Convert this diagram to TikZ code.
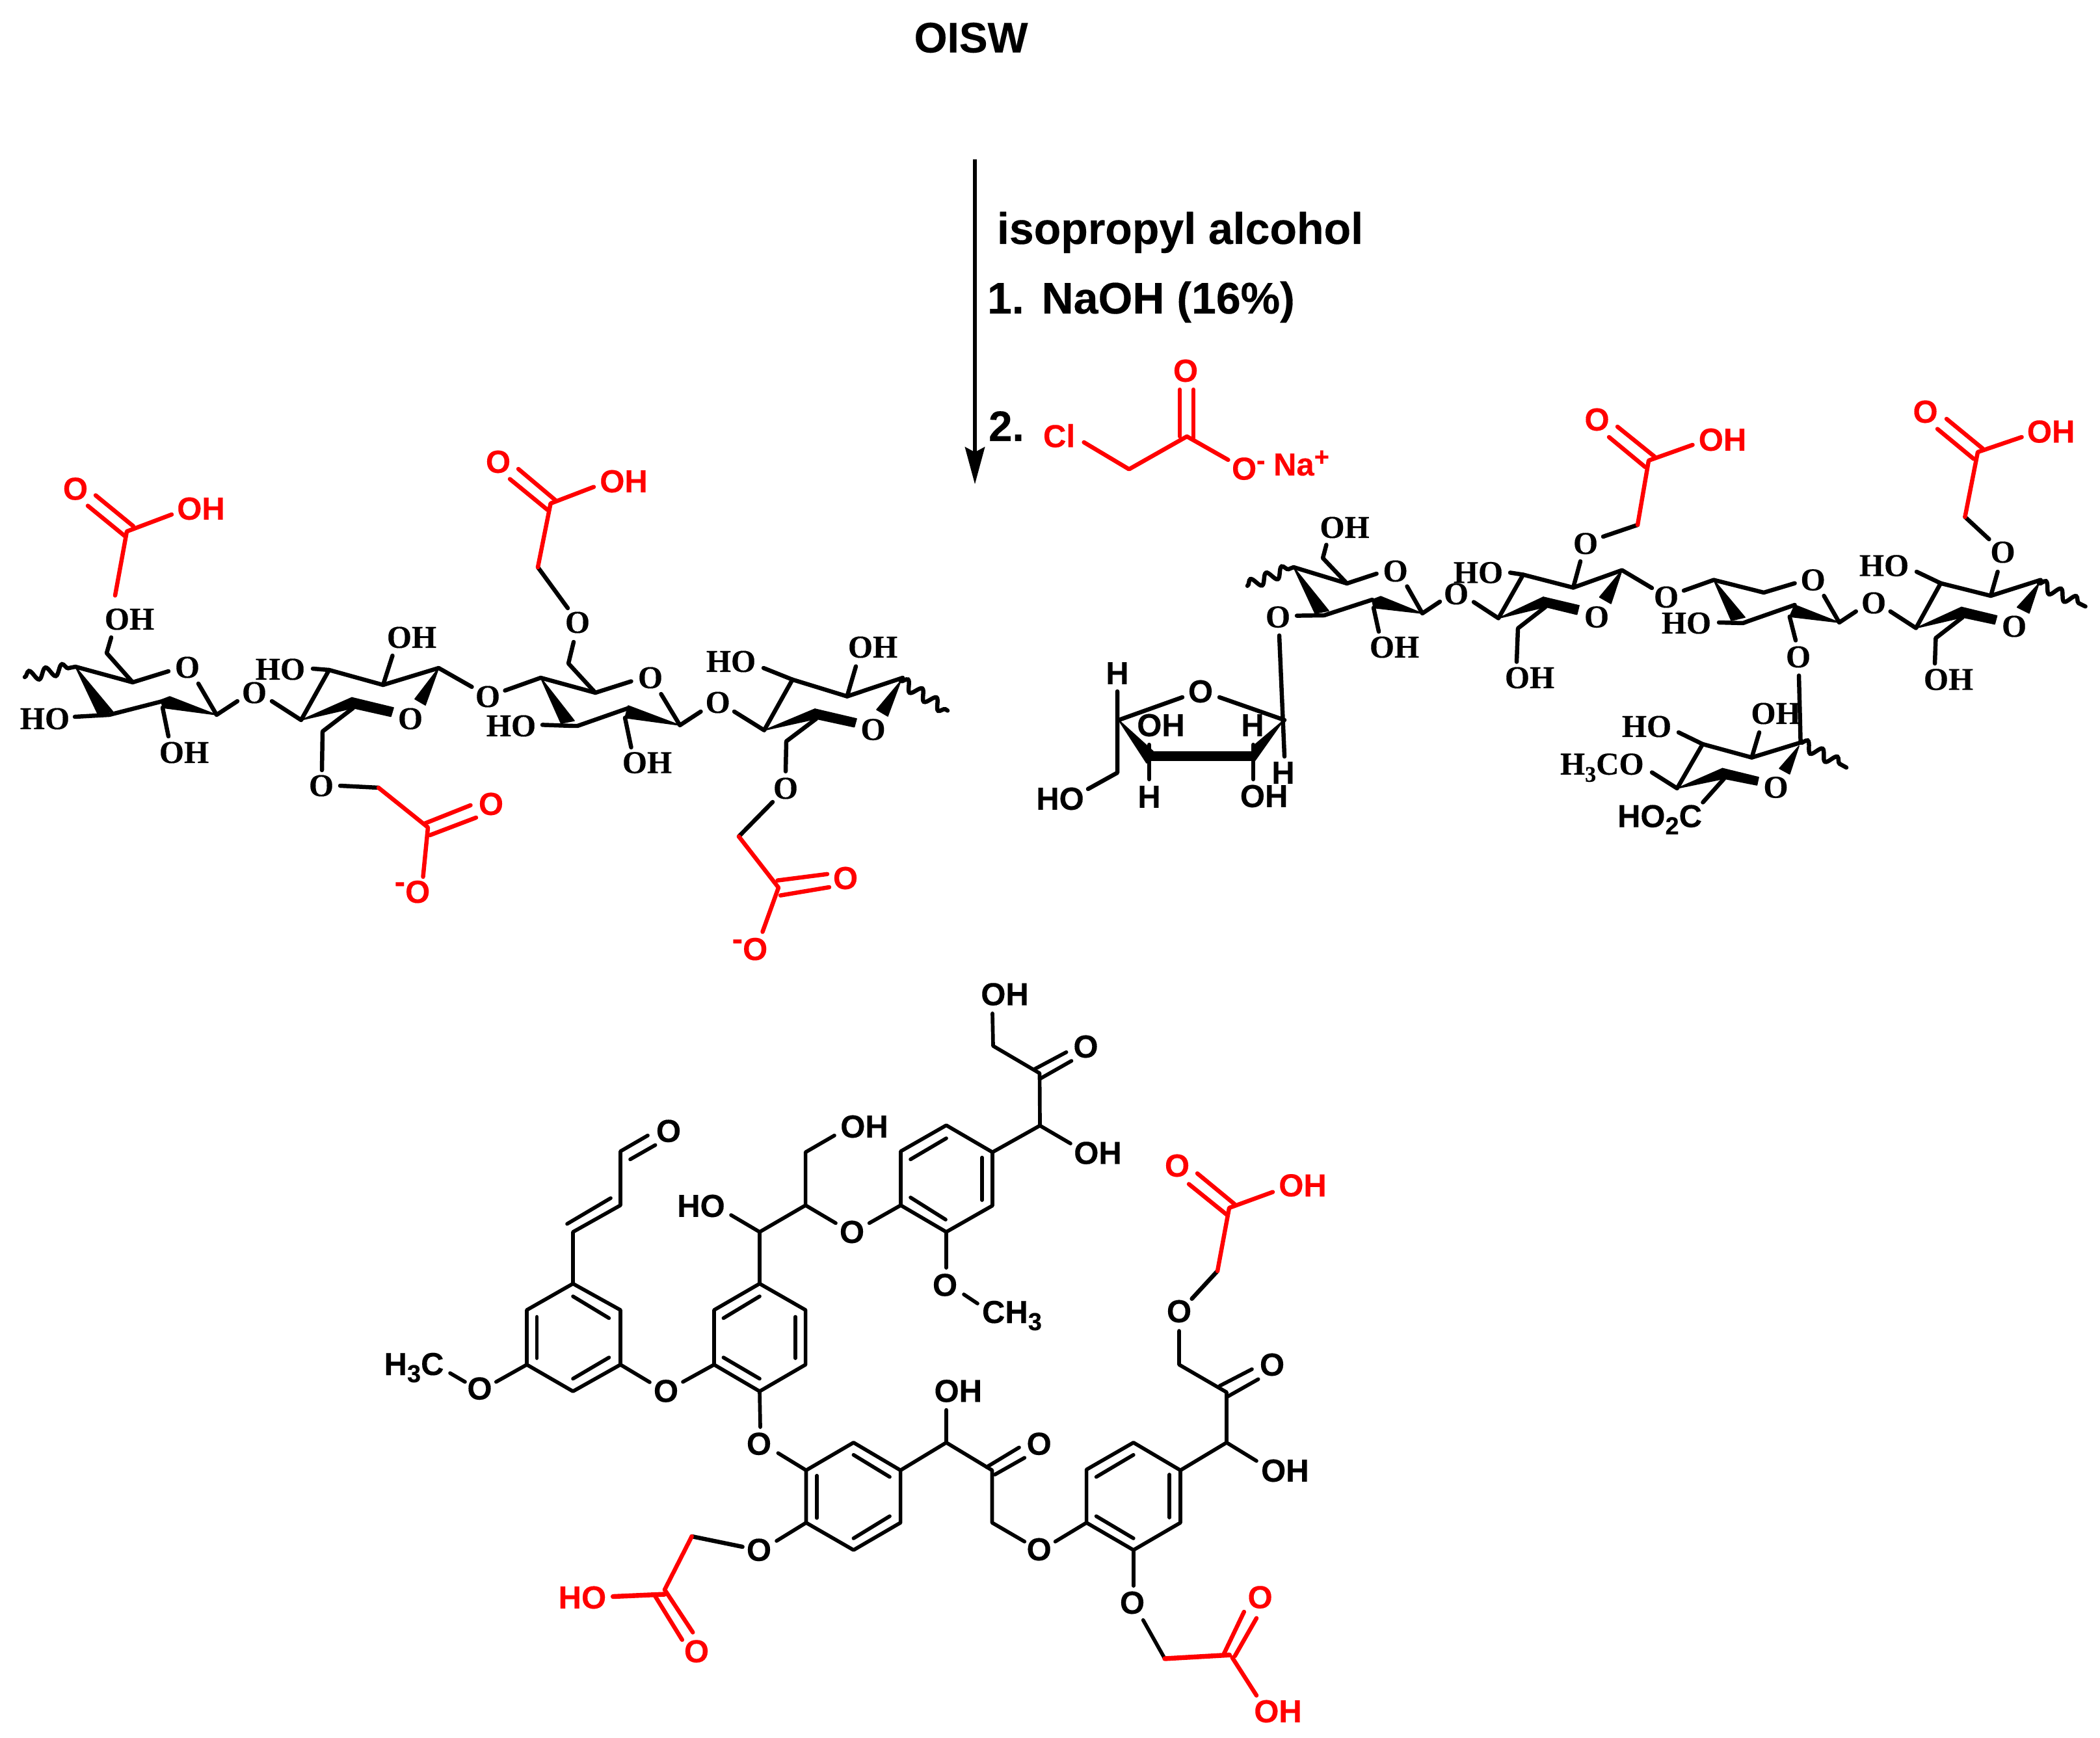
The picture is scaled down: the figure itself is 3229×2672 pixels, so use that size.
\documentclass[tikz,border=0pt]{standalone}
\usepackage{fontspec}
\setmainfont{Liberation Serif}[BoldFeatures={FakeBold=0.25}]
\setsansfont{Liberation Sans}[BoldFeatures={FakeBold=0.25}]
\usetikzlibrary{arrows.meta,decorations.pathmorphing}
\definecolor{acid}{RGB}{255,0,0}
\newcommand{\subdig}[1]{\raisebox{-2.75pt}{\fontsize{9.5}{9.5}\selectfont #1}}
\newcommand{\subser}[1]{\raisebox{-2.75pt}{\fontsize{8.5}{8.5}\selectfont #1}}
\newcommand{\vtx}[1]{\foreach \n/\x/\y in {#1} {\coordinate (\n) at (\x,\y);}}
\tikzset{
  x=0.25pt,y=-0.25pt,
  bnd/.style={line width=1.62pt,line cap=round,line join=round,draw=black},
  rbnd/.style={line width=1.62pt,line cap=round,line join=round,draw=acid},
  lbnd/.style={line width=1.42pt,line cap=round,line join=round,draw=black},
  wdg/.style={fill=black,draw=black,line width=0.4pt,line join=round},
  wav/.style={line width=1.62pt,line cap=round,draw=black,decorate,decoration={snake,segment length=6.5pt,amplitude=2pt}},
  lab/.style={inner sep=0pt,outer sep=0pt,font=\fontsize{12.25}{12.25}\selectfont\bfseries},
  slab/.style={inner sep=0pt,outer sep=0pt,font=\fontsize{12.25}{12.25}\selectfont\sffamily\bfseries},
  rlab/.style={slab,text=acid},
  big/.style={inner sep=0pt,outer sep=0pt,font=\fontsize{16.4}{16.4}\selectfont\sffamily\bfseries},
  rgt/.style={inner sep=0pt,outer sep=0pt,font=\fontsize{17}{17}\selectfont\sffamily\bfseries},
}
\begin{document}
\begin{tikzpicture}
\useasboundingbox (0,0) rectangle (3229,2672);
% ---------- reaction text and arrow
\node[big] (title) at (1493,58) {OISW};
\coordinate (arrT) at (1499,245); \coordinate (arrH) at (1499,744.6);
\draw[line width=1.65pt,draw=black,-{Stealth[length=14.25pt,width=7.5pt,inset=1.9pt]}] (arrT) -- (arrH);
\node[rgt,anchor=base west] (iso) at (1533,375) {isopropyl alcohol};
\node[rgt,anchor=base west] (naoh) at (1518,482) {1.~\hspace{2pt}NaOH (16\%)};
\node[big,anchor=base west] (two) at (1520,678) {2.};
\node[rlab,anchor=base west] (cl) at (1604,687.5) {Cl};
\node[rlab] (rgO) at (1823,570) {O};
\node[rlab,anchor=base west] (rgOm) at (1894,737.5) {O\raisebox{4pt}{\fontsize{10}{10}\selectfont -}};
\node[rlab,anchor=base west] (rgNa) at (1958,731) {Na\raisebox{3.75pt}{\fontsize{10}{10}\selectfont +}};
\vtx{rg1/1666.6/680,rg2/1736/721.4,rg3/1825/671,rg4/1888.4/707,rg5/1814/599,rg6/1814/671,rg7/1835/599,rg8/1835/675}
\draw[rbnd] (rg1)--(rg2)--(rg3)--(rg4);
\draw[rbnd] (rg5)--(rg6); \draw[rbnd] (rg7)--(rg8);

% ---------- left chain, unit A
\vtx{Aw/38/1041,A1/116/1025,A2/204/1049,A3/164/1004,A3e/171/980,A4/259/1032,A5/305/1051,A6/333/1099,A7/365/1078,A8a/150.5/1098,A8b/173.5/1094,A9/168/1099,A10/250/1078,A11t/261/1071,A11m/248/1076,A11b/250/1088,A12/259/1132,A13/115/1102}
\draw[wav] (Aw)--(A1);
\draw[bnd] (A3e)--(A3)--(A2);
\draw[bnd] (A1)--(A2)--(A4);
\draw[bnd] (A5)--(A6)--(A7);
\fill[wdg] (A1)--(A8a)--(A8b)--cycle;
\draw[bnd] (A13)--(A9)--(A10);
\fill[wdg] (A6)--(A11t)--(A11m)--(A11b)--cycle;
\draw[bnd] (A11b)--(A12);
\node[lab] (AOH1) at (199,952) {OH};
\node[lab] (AO) at (288,1026) {O};
\node[lab] (AHO) at (69,1105) {HO};
\node[lab] (AOH2) at (283,1157) {OH};
\node[lab] (ABO) at (391,1065) {O};
% acid on A
\vtx{Ac1/177/915.5,Ac2/195/817,Ac3/264/791,Ac4/147/761.5,Ac5/205/809,Ac6/135/777.6,Ac7/193/825}
\draw[rbnd] (Ac1)--(Ac2)--(Ac3);
\draw[rbnd] (Ac4)--(Ac5); \draw[rbnd] (Ac6)--(Ac7);
\node[rlab] (AcO) at (116,751.5) {O};
\node[rlab] (AcOH) at (309,782) {OH};

% ---------- unit B
\vtx{B1/418/1078,B2/463/1107,B3/506/1030,B4/481/1028,B5/589/1053,B6/603.5/1008,B7/674.5/1027,B8/725.5/1056,B9a/638/1074.6,B9b/654/1084,B10/541/1072.5,B11/543/1088.5,B12/605/1088,B13/601/1101.5,B14/496/1124.5,B15/495/1184,B16/523/1208,B17/582/1211,B18/658/1272,B19/653/1266,B20/723.5/1238,B21/661/1284,B22/732/1257,B23/650.5/1348}
\draw[bnd] (B1)--(B2)--(B3)--(B5)--(B7)--(B8);
\draw[bnd] (B4)--(B3);
\draw[bnd] (B5)--(B6);
\fill[wdg] (B7)--(B9a)--(B9b)--cycle;
\fill[wdg] (B2)--(B10)--(B11)--cycle;
\fill[wdg] (B10)--(B12)--(B13)--(B11)--cycle;
\draw[bnd] (B11)--(B14)--(B15);
\draw[bnd] (B16)--(B17);
\draw[rbnd] (B17)--(B18)--(B23);
\draw[rbnd] (B19)--(B20); \draw[rbnd] (B21)--(B22);
\node[lab] (BHO) at (431,1029) {HO};
\node[lab] (BOH) at (633,980) {OH};
\node[lab] (BCO) at (750,1071) {O};
\node[lab] (BO) at (631,1105) {O};
\node[lab] (BO2) at (494,1208) {O};
\node[rlab] (BAO) at (755,1236) {O};
\node[rlab,anchor=base] (BAm) at (634,1388) {\raisebox{4pt}{-}O};

% ---------- unit C
\vtx{C0/776.5/1061.6,C1/831.4/1042,C2/915.4/1065,C3/970.5/1047.5,C4/1016.5/1067,C5/1045.4/1115,C6/1077.5/1094,C7/874/1020,C8/882/987,C9/873/935,C10/827/872,C11/846.6/774,C12/913/748.6,C13/797/721,C14/854/769,C15/784/736.5,C16/842/784,C17a/862.6/1112,C17b/883/1108,C18/888/1116,C19/966/1088.7,C20a/966/1085,C20b/961/1103.5,C21/970.5/1149,C22/834/1114.4,C23/881/1116}
\draw[bnd] (C0)--(C1)--(C2)--(C3);
\draw[bnd] (C4)--(C5)--(C6);
\draw[bnd] (C2)--(C7)--(C8);
\draw[bnd] (C9)--(C10);
\draw[rbnd] (C10)--(C11)--(C12);
\draw[rbnd] (C13)--(C14); \draw[rbnd] (C15)--(C16);
\fill[wdg] (C1)--(C17a)--(C17b)--cycle;
\draw[bnd] (C22)--(C23)--(C18)--(C19);
\fill[wdg] (C5)--(C20a)--(C20b)--cycle;
\draw[bnd] (C20b)--(C21);
\node[rlab] (CAO) at (766,710) {O};
\node[rlab] (CAOH) at (959,740) {OH};
\node[lab] (CO2) at (888,957) {O};
\node[lab] (CO) at (1000,1042) {O};
\node[lab] (CHO) at (786,1116) {HO};
\node[lab] (COH) at (995,1172.6) {OH};
\node[lab] (CDO) at (1103.7,1080) {O};

% ---------- unit D
\vtx{D1/1129/1094,D2/1175/1122.7,D3/1218.5/1044.8,D4/1174/1027,D5/1302.5/1070.6,D6/1316/1024.5,D7/1388/1042,D8/1385/1047,D9/1457/1092.5,D10a/1348/1091,D10b/1365/1101,D11/1253/1090,D12/1255/1105,D13/1317/1105,D14/1313.5/1117.7,D15/1209/1139.7,D16/1208/1185.8,D17/1188/1233,D18/1136/1286,D19/1197/1364.6,D20/1195.5/1353.6,D21/1272/1343.8,D22/1200/1376.6,D23/1275/1364,D24/1172.5/1432.6}
\draw[bnd] (D1)--(D2)--(D3)--(D5)--(D7);
\draw[bnd] (D4)--(D3);
\draw[bnd] (D5)--(D6);
\draw[wav] (D8)--(D9);
\fill[wdg] (D8)--(D10a)--(D10b)--cycle;
\fill[wdg] (D2)--(D11)--(D12)--cycle;
\fill[wdg] (D11)--(D13)--(D14)--(D12)--cycle;
\draw[bnd] (D12)--(D15)--(D16);
\draw[bnd] (D17)--(D18);
\draw[rbnd] (D18)--(D19)--(D24);
\draw[rbnd] (D20)--(D21); \draw[rbnd] (D22)--(D23);
\node[lab] (DHO) at (1124,1017) {HO};
\node[lab] (DOH) at (1342,995) {OH};
\node[lab] (DO) at (1342.5,1121.6) {O};
\node[lab] (DO2) at (1208,1212) {O};
\node[rlab] (DAO) at (1300,1350) {O};
\node[rlab,anchor=base] (DAm) at (1153,1476) {\raisebox{4pt}{-}O};

% ---------- furanose
\vtx{Fa/1718/1063,Fb/1718/1188,Fc/1673/1213,Fd/1720/1107,Fe/1818/1072,Ff/1875/1072,Fg/1975/1107,Fh/1967/977,Fi/1975/1163,Fj/1763/1173,Fk/1773/1155,Fl/1973/1108,Fm/1927/1173,Fn/1927/1147,Fo/1767/1145,Fp/1767/1198,Fq/1927/1145,Fr/1927/1198,Fs/1763/1162.5,Ft/1927/1162.5}
\draw[bnd] (Fa)--(Fb)--(Fc);
\draw[bnd] (Fd)--(Fe);
\draw[bnd] (Ff)--(Fg);
\draw[bnd] (Fh)--(Fi);
\fill[wdg] (Fd)--(Fj)--(Fk)--cycle;
\fill[wdg] (Fl)--(Fm)--(Fn)--cycle;
\draw[line width=3.75pt,draw=black] (Fs)--(Ft);
\draw[bnd] (Fo)--(Fp);
\draw[bnd] (Fq)--(Fr);
\node[slab] (FH1) at (1718,1035) {H};
\node[slab] (FHO) at (1630,1228) {HO};
\node[slab] (FO) at (1846,1063) {O};
\node[slab] (FOH1) at (1785,1115) {OH};
\node[slab] (FH2) at (1926,1115) {H};
\node[slab] (FH3) at (1973,1188) {H};
\node[slab] (FOH2) at (1943.6,1224) {OH};
\node[slab] (FH4) at (1767,1225) {H};

% ---------- right chain, unit E
\vtx{Ew/1918/900.7,E1/1989/872,E2/2071/897,E3/2034/858,E4/2039.4/837.6,E5/2116.6/882,E6/2163.5/901.5,E7/2187/943,E8/2214/925,E9a/2022/943,E9b/2043/939,E10/2036/946,E11/1994/946.6,E12/2110/922,E13/2123/917,E14/2112/934.4,E15/2120/971}
\draw[wav] (Ew)--(E1);
\draw[bnd] (E1)--(E2)--(E5);
\draw[bnd] (E4)--(E3)--(E2);
\draw[bnd] (E6)--(E7)--(E8);
\fill[wdg] (E1)--(E9a)--(E9b)--cycle;
\draw[bnd] (E11)--(E10)--(E12);
\fill[wdg] (E7)--(E13)--(E12)--(E14)--cycle;
\draw[bnd] (E14)--(E15);
\node[lab] (EOH1) at (2067.5,811) {OH};
\node[lab] (EO) at (2145.6,878) {O};
\node[lab] (EL) at (1965,948.6) {O};
\node[lab] (EOH2) at (2144,995) {OH};
\node[lab] (EFO) at (2239,913) {O};

% ---------- unit G
\vtx{G1/2266/925.6,G2/2304/950.5,G3/2342/883.5,G4/2322/880.4,G5/2419/903.4,G6/2494/876.6,G7/2430/863,G8/2465/825,G9/2518/807,G10/2535/708,G11/2602.5/684,G12/2487/656,G13/2544/702,G14/2474/672,G15/2529.6/718,G16a/2459.5/918,G16b/2477/928,G17/2540/904,G18/2373/918,G19/2376.4/933,G20/2428/931,G21/2424.6/944.7,G22/2334/966,G23/2332/1017.5}
\draw[bnd] (G1)--(G2)--(G3)--(G5)--(G6)--(G17);
\draw[bnd] (G4)--(G3);
\draw[bnd] (G5)--(G7);
\draw[bnd] (G8)--(G9);
\draw[rbnd] (G9)--(G10)--(G11);
\draw[rbnd] (G12)--(G13); \draw[rbnd] (G14)--(G15);
\fill[wdg] (G6)--(G16a)--(G16b)--cycle;
\fill[wdg] (G2)--(G18)--(G19)--cycle;
\fill[wdg] (G18)--(G20)--(G21)--(G19)--cycle;
\draw[bnd] (G19)--(G22)--(G23);
\node[lab] (GHO) at (2273,880.4) {HO};
\node[lab] (GO2) at (2438,835.7) {O};
\node[lab] (GO) at (2455,948.6) {O};
\node[lab] (GOH) at (2352,1042) {OH};
\node[rlab] (GAO) at (2455.5,645) {O};
\node[rlab] (GAOH) at (2648.5,676) {OH};

% ---------- unit H
\vtx{H0/2589/908,H1/2635/891.6,H2/2712/911,H3/2759.6/896.7,H4/2804.5/916,H5/2828/957,H6/2853.7/940,H7a/2662/954,H7b/2683/949,H8/2688/955,H9/2759.6/930,H10/2751.7/948,H11/2761/984.5,H12/2643/957,H13/2680/958}
\draw[bnd] (H0)--(H1)--(H2)--(H3);
\draw[bnd] (H4)--(H5)--(H6);
\fill[wdg] (H1)--(H7a)--(H7b)--cycle;
\draw[bnd] (H12)--(H13)--(H8)--(H9);
\fill[wdg] (H5)--(H9)--(H10)--cycle;
\draw[bnd] (H10)--(H11);
\node[lab] (HGO) at (2562,918) {O};
\node[lab] (HHO) at (2593,958) {HO};
\node[lab] (HO) at (2787.6,891.6) {O};
\node[lab] (HJO) at (2881,927) {O};
\node[lab] (HIO) at (2765,1010) {O};

% ---------- lower sugar I
\vtx{I1/2766/1038.6,I2/2768.6/1141.6,I3/2839/1180,I4/2693.5/1164.6,I5/2618/1144,I6/2581/1126,I7/2578.7/1212,I8/2540/1187.5,I9/2705/1126,I10/2766/1147,I11a/2736/1181.4,I11b/2751.7/1190,I12/2648.5/1181.4,I13/2651/1197,I14/2704/1195,I15/2701.4/1207,I16/2618.4/1233.5}
\draw[bnd] (I1)--(I2)--(I4)--(I5)--(I7)--(I8);
\draw[wav] (I2)--(I3);
\draw[bnd] (I6)--(I5);
\draw[bnd] (I4)--(I9);
\fill[wdg] (I10)--(I11a)--(I11b)--cycle;
\fill[wdg] (I7)--(I12)--(I13)--cycle;
\fill[wdg] (I12)--(I14)--(I15)--(I13)--cycle;
\draw[bnd] (I13)--(I16);
\node[lab] (IHO) at (2532,1117) {HO};
\node[lab] (IOH) at (2730.5,1097) {OH};
\node[lab] (IO) at (2730.5,1210.5) {O};
\node[lab,anchor=base west] (IMe) at (2399,1190.8) {H\subser{3}CO};
\node[slab,anchor=base west] (ICO) at (2487,1271.7) {HO\subdig{2}C};

% ---------- unit J
\vtx{J1/2906.6/940,J2/2946/965.6,J3/2984/896.7,J4/2947/879,J5/3061/916,J6/3071.6/879,J7/3058.4/829,J8/3021.4/794.7,J9/3041/695,J10/3108.6/672,J11/2993/644,J12/3049/690,J13/2979/659.5,J14/3034.6/705.4,J15/3137.7/891.6,J16/3206.5/932.4,J17/3135/897,J18a/3101.7/933.5,J18b/3120/942.7,J19/3016/933.5,J20/3017.7/949,J21/3070.5/946.7,J22/3067/959.5,J23/2976.4/981,J24/2975/1020}
\draw[bnd] (J1)--(J2)--(J3)--(J5)--(J15);
\draw[bnd] (J4)--(J3);
\draw[bnd] (J5)--(J6);
\draw[bnd] (J7)--(J8);
\draw[rbnd] (J8)--(J9)--(J10);
\draw[rbnd] (J11)--(J12); \draw[rbnd] (J13)--(J14);
\draw[wav] (J17)--(J16);
\fill[wdg] (J17)--(J18a)--(J18b)--cycle;
\fill[wdg] (J2)--(J19)--(J20)--cycle;
\fill[wdg] (J19)--(J21)--(J22)--(J20)--cycle;
\draw[bnd] (J20)--(J23)--(J24);
\node[lab] (JHO) at (2897,869.7) {HO};
\node[lab] (JO2) at (3079.5,849) {O};
\node[lab] (JO) at (3097,963) {O};
\node[lab] (JOH) at (2996,1044.7) {OH};
\node[rlab] (JAO) at (2960.5,633) {O};
\node[rlab] (JAOH) at (3153.6,663.6) {OH};

% ---------- lignin, ring R1
\vtx{Ra/1455/1730,Rb/1526/1771.4,Rc/1526/1853.5,Rd/1455/1894,Re/1385/1853,Rf/1385/1770,Rg/1400/1782.4,Rh/1455/1750,Ri/1510/1779.6,Rj/1510/1845,Rk/1400/1841,Rl/1454/1875,Rm/1599/1730.5,Rn/1646/1758,Ro/1598.5/1650,Rp/1590/1644,Rq/1639.6/1617.6,Rr/1600/1658,Rs/1647.5/1631,Rt/1527/1608,Ru/1526/1558,Rv/1455/1949,Rw/1482/1990,Rx/1503/2004,Ry/1336.6/1880.4,Rz/1285/1880.4}
\draw[lbnd] (Ra)--(Rb)--(Rc)--(Rd)--(Re)--(Rf)--cycle;
\draw[lbnd] (Rg)--(Rh); \draw[lbnd] (Ri)--(Rj); \draw[lbnd] (Rk)--(Rl);
\draw[lbnd] (Rb)--(Rm)--(Rn);
\draw[lbnd] (Rm)--(Ro)--(Rt)--(Ru);
\draw[lbnd] (Rp)--(Rq); \draw[lbnd] (Rr)--(Rs);
\draw[lbnd] (Rd)--(Rv);
\draw[lbnd] (Rw)--(Rx);
\draw[lbnd] (Re)--(Ry);
\node[slab] (ROH1) at (1545,1528.6) {OH};
\node[slab] (RO1) at (1669.5,1609) {O};
\node[slab] (ROH2) at (1688,1772.6) {OH};
\node[slab] (RO2) at (1453,1975.5) {O};
\node[slab,anchor=base west] (RMe) at (1510,2034) {CH\subdig{3}};
\node[slab] (RO3) at (1310,1894) {O};

% ---------- lignin, linker and ring R2
\vtx{Sa/1238.6/1853,Sb/1238.6/1771.4,Sc/1283/1745.7,Sd/1168/1894,Se/1124/1868,Sf/1168/1973.5,Sg/1238.6/2014,Sh/1238.6/2098,Si/1168/2139,Sj/1098/2098,Sk/1098/2014,Sl/1112.4/2026.5,Sm/1168/1993,Sn/1223/2024.5,So/1223/2088,Sp/1112.4/2087,Sq/1168/2119.6,Sr/1169/2194,Ss/1050/2124.5}
\draw[lbnd] (Rz)--(Sa)--(Sb)--(Sc);
\draw[lbnd] (Sa)--(Sd)--(Se);
\draw[lbnd] (Sd)--(Sf);
\draw[lbnd] (Sf)--(Sg)--(Sh)--(Si)--(Sj)--(Sk)--cycle;
\draw[lbnd] (Sl)--(Sm); \draw[lbnd] (Sn)--(So); \draw[lbnd] (Sp)--(Sq);
\draw[lbnd] (Si)--(Sr);
\draw[lbnd] (Ss)--(Sj);
\node[slab] (SOH) at (1329,1732) {OH};
\node[slab] (SHO) at (1078,1854) {HO};

% ---------- lignin, ring R3 and side chain
\vtx{Ta/881/1973.5,Tb/954/2014,Tc/954/2098,Td/881/2139,Te/810/2098,Tf/810/2014,Tg/881/1993,Th/936.4/2026.5,Ti/825.5/2024.5,Tj/825.5/2088,Tk/881/2119.6,Tl/936.4/2087,Tm/881/1894,Tn/954/1853,To/872/1881.6,Tp/939/1842,Tq/954/1770,Tr/996/1745.7,Ts/969/1782.4,Tt/1007.6/1760.4,Tu/999/2125,Tv/762.8/2124.5,Tw/715/2124.5,Tx/692/2111}
\draw[lbnd] (Ta)--(Tb)--(Tc)--(Td)--(Te)--(Tf)--cycle;
\draw[lbnd] (Tg)--(Th); \draw[lbnd] (Ti)--(Tj); \draw[lbnd] (Tk)--(Tl);
\draw[lbnd] (Ta)--(Tm)--(Tn)--(Tq)--(Tr);
\draw[lbnd] (To)--(Tp);
\draw[lbnd] (Ts)--(Tt);
\draw[lbnd] (Tc)--(Tu);
\draw[lbnd] (Te)--(Tv);
\draw[lbnd] (Tw)--(Tx);
\node[slab] (TO1) at (1028,1738.8) {O};
\node[slab] (TO2) at (1024,2138.5) {O};
\node[slab] (TO3) at (737.5,2134.7) {O};
\node[slab,anchor=base west] (TMe) at (590.6,2114) {H\subdig{3}C};

% ---------- lignin, ring R4
\vtx{Ua/1196.4/2234,Ub/1239.5/2260.4,Uc/1312.4/2217.8,Ud/1384.6/2260.4,Ue/1384.6/2341,Uf/1312.4/2383,Ug/1239.5/2341,Uh/1312.4/2236.7,Ui/1368/2270.6,Uj/1256/2268.7,Uk/1256/2333.7,Ul/1312.4/2365,Um/1368/2331,Un/1455/2217.8,Uo/1455/2167.6,Up/1525.5/2260.4,Uq/1517/2255.5,Ur/1567/2225.3,Us/1529.7/2267,Ut/1575.3/2241.2,Uu/1525.5/2341,Uv/1575.3/2370,Uw/1622.6/2370,Ux/1194/2369,Uy/1141.6/2378,Uz/1063.7/2362}
\draw[lbnd] (Ub)--(Uc)--(Ud)--(Ue)--(Uf)--(Ug)--cycle;
\draw[lbnd] (Ua)--(Ub);
\draw[lbnd] (Uh)--(Ui); \draw[lbnd] (Uj)--(Uk); \draw[lbnd] (Ul)--(Um);
\draw[lbnd] (Ud)--(Un)--(Uo);
\draw[lbnd] (Un)--(Up)--(Uu)--(Uv);
\draw[lbnd] (Uq)--(Ur); \draw[lbnd] (Us)--(Ut);
\draw[lbnd] (Ug)--(Ux);
\draw[bnd] (Uy)--(Uz);
\node[slab] (UO1) at (1167,2219.7) {O};
\node[slab] (UOH) at (1473.3,2138.5) {OH};
\node[slab] (UO2) at (1597.7,2219.7) {O};
\node[slab] (UO3) at (1597.7,2382) {O};
\node[slab] (UO4) at (1167,2382.8) {O};
% acid on R4
\vtx{Va/1022/2444,Vb/942.6/2454.5,Vc/1022/2451,Vd/1065.3/2509.6,Ve/1007.3/2453.7,Vf/1048.8/2521}
\draw[rbnd] (Uz)--(Va);
\draw[rbnd,line width=1.85pt] (Vb)--(Vc);
\draw[rbnd] (Va)--(Vd); \draw[rbnd] (Ve)--(Vf);
\node[rlab] (VHO) at (895.4,2456) {HO};
\node[rlab] (VO) at (1071,2538.7) {O};

% ---------- lignin, ring R5
\vtx{Wa/1670.6/2341,Wb/1670.6/2259.3,Wc/1742.8/2217.8,Wd/1815/2260.4,We/1815/2341,Wf/1742.8/2383,Wg/1685.6/2270.6,Wh/1742.8/2236.7,Wi/1798.3/2267,Wj/1798.3/2333,Wk/1685.6/2331,Wl/1742.8/2365,Wm/1886/2217.8,Wn/1932/2246,Wo/1886/2140.4,Wp/1813/2098,Wq/1813/2046,Wr/1832.6/1996.7,Ws/1872/1954,Wt/1890/1857,Wu/1957/1832.6,Wv/1841/1804,Ww/1898/1851,Wx/1828/1820.4,Wy/1885.7/1867,Wz/1875.5/2130.6,WA/1925/2105,WB/1887.7/2147,WC/1934.7/2120.4}
\draw[lbnd] (Wa)--(Wb)--(Wc)--(Wd)--(We)--(Wf)--cycle;
\draw[lbnd] (Uw)--(Wa);
\draw[lbnd] (Wg)--(Wh); \draw[lbnd] (Wi)--(Wj); \draw[lbnd] (Wk)--(Wl);
\draw[lbnd] (Wd)--(Wm)--(Wn);
\draw[lbnd] (Wm)--(Wo)--(Wp)--(Wq);
\draw[lbnd] (Wz)--(WA); \draw[lbnd] (WB)--(WC);
\draw[bnd] (Wr)--(Ws);
\draw[rbnd] (Ws)--(Wt)--(Wu);
\draw[rbnd] (Wv)--(Ww); \draw[rbnd] (Wx)--(Wy);
\node[slab] (WOH) at (1975.8,2261) {OH};
\node[slab] (WO1) at (1956,2098) {O};
\node[slab] (WO2) at (1813,2016) {O};
\node[rlab] (WAO) at (1810,1792) {O};
\node[rlab] (WAOH) at (2003,1822.4) {OH};
% lower acid on R5
\vtx{Xa/1742.8/2438,Xb/1757.7/2490.7,Xc/1791/2550,Xd/1890.4/2544.3,Xe/1882/2542.4,Xf/1912.8/2478,Xg/1898.7/2546,Xh/1932/2487.7,Xi/1894.5/2548,Xj/1932/2606.6}
\draw[lbnd] (Wf)--(Xa);
\draw[lbnd] (Xb)--(Xc);
\draw[rbnd,line width=1.85pt] (Xc)--(Xd);
\draw[rbnd] (Xe)--(Xf); \draw[rbnd] (Xg)--(Xh);
\draw[rbnd] (Xi)--(Xj);
\node[slab] (XO) at (1741,2464) {O};
\node[rlab] (XAO) at (1937.6,2455.6) {O};
\node[rlab] (XAOH) at (1965,2631) {OH};
\end{tikzpicture}
\end{document}
